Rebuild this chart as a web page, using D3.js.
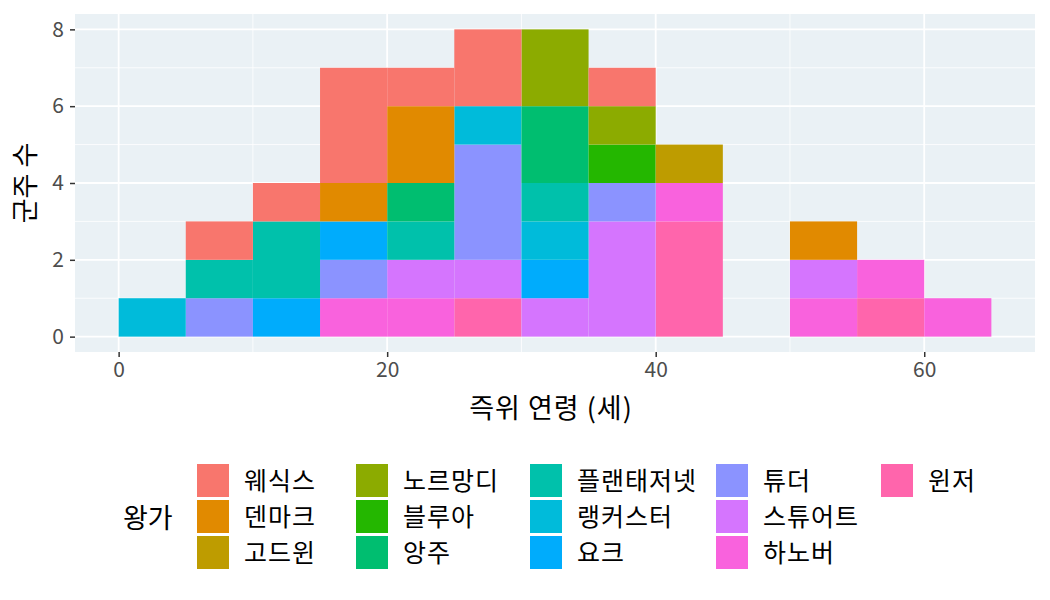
<!DOCTYPE html>
<html>
<head>
<meta charset="utf-8">
<script src="https://d3js.org/d3.v7.min.js"></script>
<style>
  body { margin: 0; background: #fff; }
  text { font-family: "Noto Sans CJK KR", "Noto Sans", sans-serif; }
</style>
</head>
<body>
<script>
// bin starts (width 5 years)
var binStarts = [0, 5, 10, 15, 20, 25, 30, 35, 40, 45, 50, 55, 60];
var houses = ['웨식스', '덴마크', '고드윈', '노르망디', '블루아', '앙주', '플랜태저넷',
              '랭커스터', '요크', '튜더', '스튜어트', '하노버', '윈저'];
var houseColors = ['#F8766D', '#E18A00', '#BE9C00', '#8CAB00', '#24B700', '#00BE70', '#00C1AB',
                   '#00BBDA', '#00ACFC', '#8B93FF', '#D575FE', '#F962DD', '#FF65AC'];
// monarchs per house per bin
var wessex      = [0, 1, 1, 3, 1, 2, 0, 1, 0, 0, 0, 0, 0];
var denmark     = [0, 0, 0, 1, 2, 0, 0, 0, 0, 0, 1, 0, 0];
var godwin      = [0, 0, 0, 0, 0, 0, 0, 0, 1, 0, 0, 0, 0];
var normandy    = [0, 0, 0, 0, 0, 0, 2, 1, 0, 0, 0, 0, 0];
var blois       = [0, 0, 0, 0, 0, 0, 0, 1, 0, 0, 0, 0, 0];
var anjou       = [0, 0, 0, 0, 1, 0, 2, 0, 0, 0, 0, 0, 0];
var plantagenet = [0, 1, 2, 0, 1, 0, 1, 0, 0, 0, 0, 0, 0];
var lancaster   = [1, 0, 0, 0, 0, 1, 1, 0, 0, 0, 0, 0, 0];
var york        = [0, 0, 1, 1, 0, 0, 1, 0, 0, 0, 0, 0, 0];
var tudor       = [0, 1, 0, 1, 0, 3, 0, 1, 0, 0, 0, 0, 0];
var stuart      = [0, 0, 0, 0, 1, 1, 1, 3, 0, 0, 1, 0, 0];
var hanover     = [0, 0, 0, 1, 1, 0, 0, 0, 1, 0, 1, 1, 1];
var windsor     = [0, 0, 0, 0, 0, 1, 0, 0, 3, 0, 0, 1, 0];
var counts = [wessex, denmark, godwin, normandy, blois, anjou, plantagenet,
              lancaster, york, tudor, stuart, hanover, windsor];
var xTicks = [0, 20, 40, 60];
var yTicks = [0, 2, 4, 6, 8];

var W = 1050, H = 600;
var panel = {left: 75, right: 1035, top: 14, bottom: 352};

var svg = d3.select('body').append('svg').attr('width', W).attr('height', H);

var x = d3.scaleLinear().domain([-3.25, 68.25]).range([panel.left, panel.right]);
var y = d3.scaleLinear().domain([-0.4, 8.4]).range([panel.bottom, panel.top]);
var color = d3.scaleOrdinal().domain(houses).range(houseColors);

// table for stacking
var table = binStarts.map(function(b, i) {
    var row = {bin: b};
    houses.forEach(function(h, j) { row[h] = counts[j][i]; });
    return row;
});
// last level at bottom, as ggplot does
var stack = d3.stack().keys(houses.slice().reverse());
var series = stack(table);

// panel background + grid
svg.append('rect')
    .attr('x', panel.left).attr('y', panel.top)
    .attr('width', panel.right - panel.left).attr('height', panel.bottom - panel.top)
    .attr('fill', '#EAF1F5');

var g = svg.append('g');
[1, 3, 5, 7].forEach(function(v) {
    g.append('line').attr('x1', panel.left).attr('x2', panel.right)
        .attr('y1', y(v)).attr('y2', y(v)).attr('stroke', '#fff').attr('stroke-width', 0.8);
});
[10, 30, 50].forEach(function(v) {
    g.append('line').attr('y1', panel.top).attr('y2', panel.bottom)
        .attr('x1', x(v)).attr('x2', x(v)).attr('stroke', '#fff').attr('stroke-width', 0.8);
});
yTicks.forEach(function(v) {
    g.append('line').attr('x1', panel.left).attr('x2', panel.right)
        .attr('y1', y(v)).attr('y2', y(v)).attr('stroke', '#fff').attr('stroke-width', 1.8);
});
xTicks.forEach(function(v) {
    g.append('line').attr('y1', panel.top).attr('y2', panel.bottom)
        .attr('x1', x(v)).attr('x2', x(v)).attr('stroke', '#fff').attr('stroke-width', 1.8);
});

// bars
svg.append('g').selectAll('g')
    .data(series)
    .join('g')
    .attr('fill', function(d) { return color(d.key); })
    .selectAll('rect')
    .data(function(d) { return d.filter(function(p) { return p[1] > p[0]; }); })
    .join('rect')
    .attr('x', function(d) { return x(d.data.bin); })
    .attr('width', function(d) { return x(d.data.bin + 5) - x(d.data.bin); })
    .attr('y', function(d) { return y(d[1]); })
    .attr('height', function(d) { return y(d[0]) - y(d[1]); });

// axes
var xAxis = svg.append('g')
    .attr('transform', 'translate(0,' + panel.bottom + ')')
    .call(d3.axisBottom(x).tickValues(xTicks).tickSize(5).tickPadding(5));
var yAxis = svg.append('g')
    .attr('transform', 'translate(' + panel.left + ',0)')
    .call(d3.axisLeft(y).tickValues(yTicks).tickSize(5).tickPadding(6));
[xAxis, yAxis].forEach(function(a) {
    a.select('.domain').remove();
    a.selectAll('line').attr('stroke', '#333').attr('stroke-width', 1.5);
    a.selectAll('text').attr('fill', '#4D4D4D').style('font-size', '21px')
        .style('font-family', '"Noto Sans CJK KR", sans-serif');
});

// axis titles
svg.append('text')
    .attr('x', (panel.left + panel.right) / 2 - 4).attr('y', 418)
    .attr('text-anchor', 'middle').style('font-size', '27px').style('letter-spacing', '1px')
    .attr('fill', '#000')
    .text('즉위 연령 (세)');
svg.append('text')
    .attr('transform', 'translate(35,' + ((panel.top + panel.bottom) / 2) + ') rotate(-90)')
    .attr('text-anchor', 'middle').style('font-size', '27px').attr('fill', '#000')
    .text('군주 수');

// legend
var colX = [197, 356, 530, 716, 881];
var rowY = [464, 500, 536];
var keyW = 32, keyH = 33;
var legend = svg.append('g');
legend.append('text')
    .attr('x', 123).attr('y', 519).attr('dy', '0.35em')
    .style('font-size', '27px').attr('fill', '#000')
    .text('왕가');
houses.forEach(function(h, i) {
    var cx = colX[Math.floor(i / 3)], cy = rowY[i % 3];
    legend.append('rect')
        .attr('x', cx).attr('y', cy).attr('width', keyW).attr('height', keyH)
        .attr('fill', color(h));
    legend.append('text')
        .attr('x', cx + 47).attr('y', cy + keyH / 2 + 1).attr('dy', '0.35em')
        .style('font-size', '25px').style('letter-spacing', '1px').attr('fill', '#000')
        .text(h);
});
</script>
</body>
</html>
